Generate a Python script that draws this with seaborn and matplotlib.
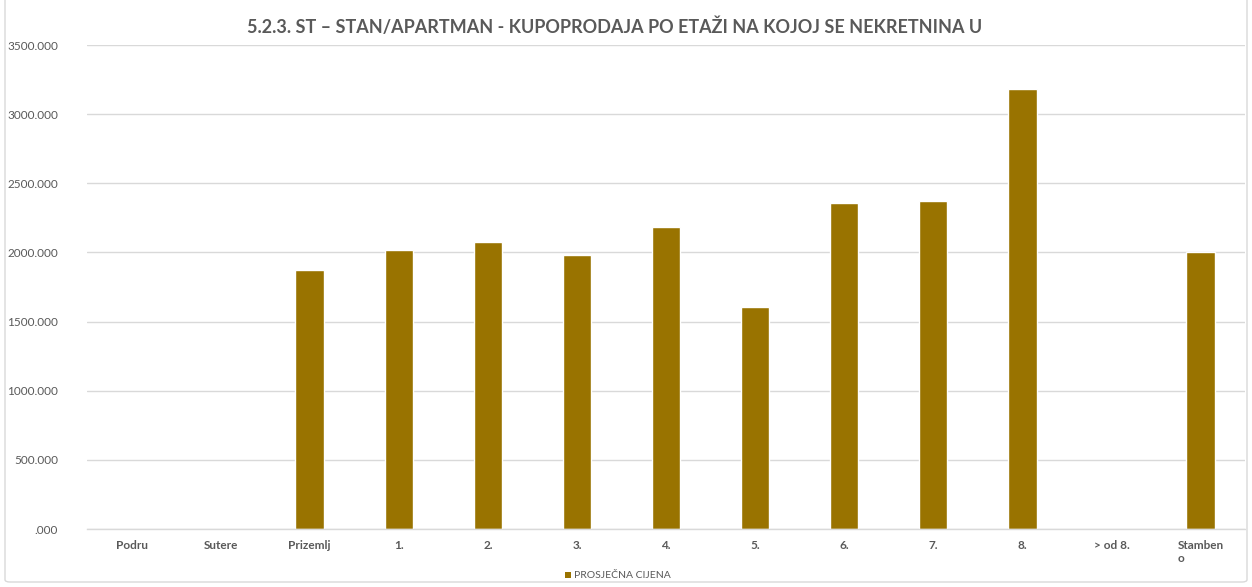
import numpy as np
import pandas as pd
import seaborn as sns
import matplotlib
matplotlib.use("Agg")
import matplotlib.pyplot as plt
from matplotlib.patches import FancyBboxPatch, Patch
from matplotlib.ticker import FuncFormatter

categories = ["Podru", "Sutere", "Prizemlj", "1.", "2.", "3.", "4.", "5.", "6.", "7.", "8.", "> od 8.", "Stamben\no"]
prices = [np.nan, np.nan, 1872, 2017, 2075, 1981, 2183, 1605, 2357, 2371, 3181, np.nan, 2002]
series_name = "PROSJEČNA CIJENA"
title = "5.2.3. ST – STAN/APARTMAN - KUPOPRODAJA PO ETAŽI NA KOJOJ SE NEKRETNINA U"

df = pd.DataFrame({"etaza": categories, "cijena": prices})

sns.set_theme(style="white")
plt.rcParams["font.family"] = ["Lato", "DejaVu Sans"]

bar_color = "#997300"
text_color = "#595959"
grid_color = "#d9d9d9"

fig = plt.figure(figsize=(12.52, 5.87), dpi=100)
ax = fig.add_axes([87 / 1252, 1 - 529 / 587, (1245 - 87) / 1252, (529 - 45) / 587])

sns.barplot(data=df, x="etaza", y="cijena", color=bar_color, width=0.32,
            saturation=1, ax=ax, order=categories)

ax.set_ylim(0, 3500)
ax.set_yticks(np.arange(0, 3501, 500))
ax.yaxis.set_major_formatter(FuncFormatter(lambda v, p: ".000" if v == 0 else f"{v:.3f}"))
ax.grid(axis="y", color=grid_color, linewidth=1)
ax.set_axisbelow(True)
for s in ["top", "right", "left"]:
    ax.spines[s].set_visible(False)
ax.spines["bottom"].set_color(grid_color)
ax.spines["bottom"].set_linewidth(1)
ax.set_xlabel("")
ax.set_ylabel("")
ax.tick_params(axis="both", length=0)
ax.tick_params(axis="y", labelsize=8.5, labelcolor=text_color, pad=21)
ax.tick_params(axis="x", labelsize=8.5, labelcolor=text_color, pad=8)
for lbl in ax.get_xticklabels():
    lbl.set_fontweight("bold")
    lbl.set_multialignment("left")
    lbl.set_verticalalignment("top")

fig.text(615 / 1252, 1 - 27 / 587, title, ha="center", va="center",
         fontsize=13, fontweight="bold", color=text_color)

handle = Patch(facecolor=bar_color, edgecolor="none")
fig.legend([handle], [series_name], loc="center", bbox_to_anchor=(618 / 1252, 1 - 576 / 587),
           frameon=False, fontsize=7.5, handlelength=0.6, handleheight=0.6, handletextpad=0.3,
           labelcolor=text_color)

border = FancyBboxPatch((5 / 1252, 5 / 587), 1242 / 1252, 600 / 587,
                        boxstyle="round,pad=0,rounding_size=0.004",
                        transform=fig.transFigure, facecolor="none",
                        edgecolor=grid_color, linewidth=1, clip_on=False)
fig.patches.append(border)

fig.savefig("out.png", dpi=100)
